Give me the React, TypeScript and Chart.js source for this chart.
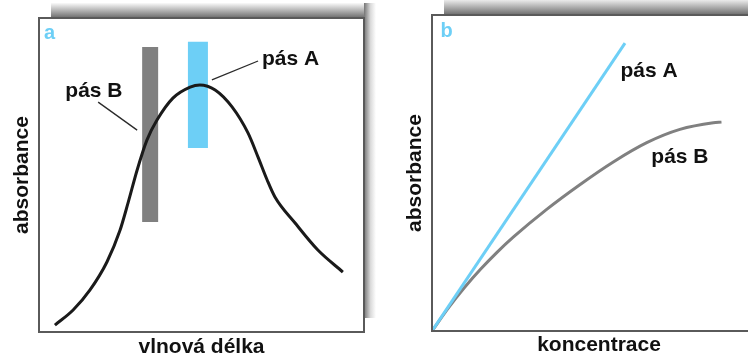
import React, { useEffect, useRef } from "react";
import { Chart, registerables } from "chart.js";

Chart.register(...registerables);

const FONT_FAMILY = '"Liberation Sans", Arial, Helvetica, sans-serif';
const BLUE = "#6dcff6";
const GRAY = "#808080";
const INK = "#111111";

// ---------- Panel a: absorption spectrum (relative units 0–100) ----------
const spectrumX = [4.9, 10.5, 15.7, 20.9, 24.9, 27.4, 30.2, 33.2, 36.3, 41.2, 46.5, 49.5, 54.2, 59.4, 64.3, 67.4, 70.2, 72.6, 78.8, 85.8, 93.5];
const spectrumY = [2.2, 7.0, 13.4, 22.3, 32.3, 41.1, 51.6, 61.1, 67.5, 74.5, 78.0, 78.7, 77.1, 71.7, 63.4, 55.7, 48.4, 43.0, 34.7, 26.1, 19.1];

const bandAWavelength = 48.9;
const bandAAbsRange = [58.6, 92.4];
const bandBWavelength = 34.2;
const bandBAbsRange = [35.0, 90.8];

const leaderAX = [67.4, 53.2];
const leaderAY = [86.3, 80.3];
const leaderBX = [18.2, 30.2];
const leaderBY = [73.2, 64.3];

const labelsA = [
  { text: "pás A", x: 68.6, y: 85.0 },
  { text: "pás B", x: 8.1, y: 74.9 },
];

// ---------- Panel b: absorbance vs concentration ----------
const concBandA = [0, 59.4];
const absBandA = [0, 91.1];
const concBandB = [0, 5, 10, 15, 20, 25, 35.3, 45.5, 55.8, 66.1, 76.3, 86.6, 89.1];
const absBandB = [0, 7.25, 13.75, 19.6, 24.9, 29.7, 38.5, 46.3, 53.5, 59.6, 63.8, 65.9, 66.1];

const labelsB = [
  { text: "pás A", x: 58.0, y: 80.3 },
  { text: "pás B", x: 67.5, y: 53.3 },
];

const toPoints = (xs: number[], ys: number[]) => xs.map((x, i) => ({ x, y: ys[i] }));

function framePlugin(labels: { text: string; x: number; y: number }[], letter: string, letterDx: number, letterDy: number) {
  return {
    id: "frameLabels",
    afterDatasetsDraw(chart: any) {
      const { ctx, chartArea: ca, scales } = chart;
      const xs = scales.x;
      const ys = scales.y;
      ctx.save();
      ctx.strokeStyle = "#5a5a5a";
      ctx.lineWidth = 2;
      ctx.strokeRect(ca.left, ca.top, ca.right - ca.left, ca.bottom - ca.top);
      ctx.font = `bold 21px ${FONT_FAMILY}`;
      ctx.textBaseline = "alphabetic";
      ctx.textAlign = "left";
      ctx.fillStyle = INK;
      labels.forEach((l) => {
        ctx.fillText(l.text, xs.getPixelForValue(l.x), ys.getPixelForValue(l.y));
      });
      ctx.fillStyle = BLUE;
      ctx.font = `bold 20px ${FONT_FAMILY}`;
      ctx.fillText(letter, ca.left + letterDx, ca.top + letterDy);
      ctx.restore();
    },
  };
}

const titleFont = { family: FONT_FAMILY, size: 21, weight: "bold" as const };

function ChartCanvas({ left, width, height, makeConfig }: { left: number; width: number; height: number; makeConfig: () => any }) {
  const ref = useRef<HTMLCanvasElement | null>(null);
  useEffect(() => {
    if (!ref.current) return;
    const chart = new Chart(ref.current, makeConfig());
    return () => chart.destroy();
  }, []);
  return (
    <canvas
      ref={ref}
      width={width}
      height={height}
      style={{ position: "absolute", left, top: 0, width, height }}
    />
  );
}

const configA = () => ({
  type: "line",
  data: {
    datasets: [
      { data: toPoints(spectrumX, spectrumY), borderColor: "#1a1a1a", borderWidth: 3, cubicInterpolationMode: "monotone", pointRadius: 0 },
      { data: toPoints(leaderAX, leaderAY), borderColor: "#2a2a2a", borderWidth: 1.3, tension: 0, pointRadius: 0 },
      { data: toPoints(leaderBX, leaderBY), borderColor: "#2a2a2a", borderWidth: 1.3, tension: 0, pointRadius: 0 },
      { data: toPoints([bandAWavelength, bandAWavelength], bandAAbsRange), borderColor: BLUE, borderWidth: 20, borderCapStyle: "butt", tension: 0, pointRadius: 0 },
      { data: toPoints([bandBWavelength, bandBWavelength], bandBAbsRange), borderColor: GRAY, borderWidth: 16, borderCapStyle: "butt", tension: 0, pointRadius: 0 },
    ],
  },
  options: {
    animation: false,
    responsive: false,
    layout: { padding: { top: 18, right: 16, left: 0, bottom: 0 } },
    plugins: { legend: { display: false }, tooltip: { enabled: false }, title: { display: false } },
    scales: {
      x: {
        type: "linear", min: 0, max: 100,
        grid: { display: false }, border: { display: false }, ticks: { display: false },
        title: { display: true, text: "vlnová délka", font: titleFont, color: INK, padding: { top: 0, bottom: 0 } },
        afterFit: (s: any) => { s.height = 28; },
      },
      y: {
        type: "linear", min: 0, max: 100,
        grid: { display: false }, border: { display: false }, ticks: { display: false },
        title: { display: true, text: "absorbance", font: titleFont, color: INK, padding: { top: 9.6, bottom: 0 } },
        afterFit: (s: any) => { s.width = 39; },
      },
    },
  },
  plugins: [framePlugin(labelsA, "a", 5, 21)],
});

const configB = () => ({
  type: "line",
  data: {
    datasets: [
      { data: toPoints(concBandA, absBandA), borderColor: BLUE, borderWidth: 3, tension: 0, pointRadius: 0 },
      { data: toPoints(concBandB, absBandB), borderColor: GRAY, borderWidth: 3, cubicInterpolationMode: "monotone", pointRadius: 0 },
    ],
  },
  options: {
    animation: false,
    responsive: false,
    layout: { padding: { top: 15, right: 4, left: 0, bottom: 0 } },
    plugins: { legend: { display: false }, tooltip: { enabled: false }, title: { display: false } },
    scales: {
      x: {
        type: "linear", min: 0, max: 102.8,
        grid: { display: false }, border: { display: false }, ticks: { display: false },
        title: { display: true, text: "koncentrace", font: titleFont, color: INK, padding: { top: 0, bottom: 1.7 } },
        afterFit: (s: any) => { s.height = 29; },
      },
      y: {
        type: "linear", min: 0, max: 100,
        grid: { display: false }, border: { display: false }, ticks: { display: false },
        title: { display: true, text: "absorbance", font: titleFont, color: INK, padding: { top: 22.9, bottom: 0 } },
        afterFit: (s: any) => { s.width = 52; },
      },
    },
  },
  plugins: [framePlugin(labelsB, "b", 8.5, 22)],
});

export default function App() {
  const shadowTop = "linear-gradient(to bottom, rgba(90,90,90,0.03), rgba(70,70,70,0.8))";
  const shadowRight = "linear-gradient(to right, rgba(70,70,70,0.75), rgba(110,110,110,0.25) 55%, rgba(120,120,120,0.0))";
  return (
    <div style={{ position: "absolute", left: 0, top: 0, width: 748, height: 360, overflow: "hidden", background: "#ffffff" }}>
      <div style={{ position: "absolute", left: 51, top: 3, width: 313, height: 15, background: shadowTop }} />
      <div style={{ position: "absolute", left: 364, top: 3, width: 12, height: 315, background: shadowRight }} />
      <div style={{ position: "absolute", left: 444, top: 0, width: 304, height: 15, background: "linear-gradient(to bottom, rgba(90,90,90,0.12), rgba(70,70,70,0.8))" }} />
      <ChartCanvas left={0} width={380} height={360} makeConfig={configA} />
      <ChartCanvas left={380} width={390} height={360} makeConfig={configB} />
    </div>
  );
}
